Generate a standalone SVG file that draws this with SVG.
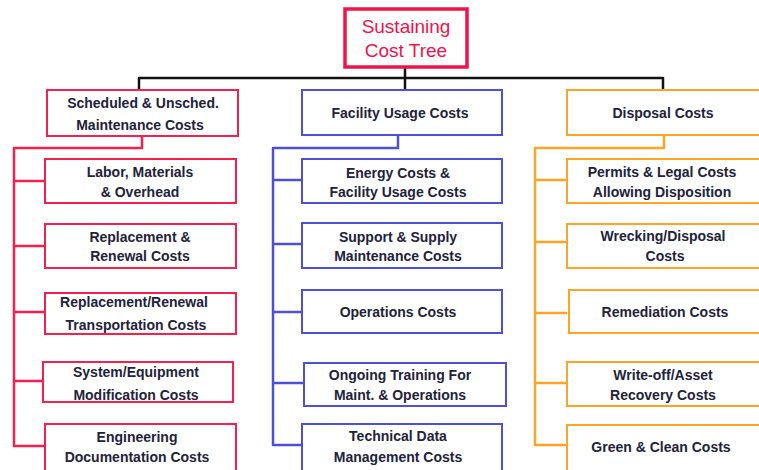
<svg xmlns="http://www.w3.org/2000/svg" width="759" height="470" viewBox="0 0 759 470">
<style>
rect{fill:#fff;stroke-width:2}
.r{stroke:#f5204f}
.b{stroke:#4f4fd6}
.o{stroke:#ffa526}
.root{stroke:#f0124a;stroke-width:3.5}
text{font-family:"Liberation Sans",Arial,sans-serif;font-weight:bold;font-size:14px;fill:#22223a;text-anchor:middle}
.t{font-weight:normal;font-size:19px;fill:#f0124a}
.c{fill:none;stroke-width:2.5;stroke-linejoin:round}
</style>
<g id="connectors">
<path class="c" stroke="#111" d="M405,67V78M139,90V78H663V90M405,78V90"/>
<path class="c" stroke="#f5204f" d="M142,136V148H14V446H45M14,181H45M14,246H45M14,312H45M14,381H45"/>
<path class="c" stroke="#4f4fd6" d="M398,135V148H273V445H302M273,180H302M273,244H302M273,312H302M273,383H304"/>
<path class="c" stroke="#ffa526" d="M664,135V148H535V445H567M535,180H567M535,242H567M535,313H567M535,383H567"/>
</g>
<g id="root"><rect class="root" x="345" y="9" width="122" height="58"/><text class="t" x="406" y="33">Sustaining</text><text class="t" x="406" y="57">Cost Tree</text></g>
<g id="sched"><rect class="r" x="47" y="90" width="191" height="46"/><text x="143" y="108">Scheduled &amp; Unsched.</text><text x="140" y="130">Maintenance Costs</text></g>
<g id="facility"><rect class="b" x="302" y="90" width="200" height="45"/><text x="400" y="118">Facility Usage Costs</text></g>
<g id="disposal"><rect class="o" x="567" y="90" width="210" height="45"/><text x="663" y="118">Disposal Costs</text></g>
<g id="labor"><rect class="r" x="45" y="159" width="191" height="44"/><text x="140" y="177">Labor, Materials</text><text x="140" y="197">&amp; Overhead</text></g>
<g id="replacement"><rect class="r" x="45" y="224" width="191" height="44"/><text x="140" y="242">Replacement &amp;</text><text x="140" y="261">Renewal Costs</text></g>
<g id="transport"><rect class="r" x="45" y="293" width="191" height="41"/><text x="134" y="307">Replacement/Renewal</text><text x="136" y="330">Transportation Costs</text></g>
<g id="system"><rect class="r" x="43" y="362" width="190" height="40"/><text x="136" y="377">System/Equipment</text><text x="136" y="400">Modification Costs</text></g>
<g id="engineering"><rect class="r" x="45" y="424" width="191" height="48"/><text x="137" y="442">Engineering</text><text x="137" y="462">Documentation Costs</text></g>
<g id="energy"><rect class="b" x="302" y="159" width="200" height="44"/><text x="398" y="178">Energy Costs &amp;</text><text x="398" y="197">Facility Usage Costs</text></g>
<g id="support"><rect class="b" x="302" y="223" width="200" height="45"/><text x="398" y="242">Support &amp; Supply</text><text x="398" y="261">Maintenance Costs</text></g>
<g id="operations"><rect class="b" x="302" y="290" width="200" height="43"/><text x="398" y="317">Operations Costs</text></g>
<g id="training"><rect class="b" x="304" y="363" width="202" height="43"/><text x="400" y="380">Ongoing Training For</text><text x="400" y="400">Maint. &amp; Operations</text></g>
<g id="technical"><rect class="b" x="302" y="424" width="200" height="48"/><text x="398" y="441">Technical Data</text><text x="398" y="462">Management Costs</text></g>
<g id="permits"><rect class="o" x="567" y="159" width="210" height="44"/><text x="662" y="177">Permits &amp; Legal Costs</text><text x="662" y="197">Allowing Disposition</text></g>
<g id="wrecking"><rect class="o" x="567" y="224" width="210" height="44"/><text x="663" y="241">Wrecking/Disposal</text><text x="665" y="261">Costs</text></g>
<g id="remediation"><rect class="o" x="569" y="290" width="210" height="43"/><text x="665" y="317">Remediation Costs</text></g>
<g id="writeoff"><rect class="o" x="567" y="362" width="210" height="44"/><text x="663" y="380">Write-off/Asset</text><text x="663" y="400">Recovery Costs</text></g>
<g id="green"><rect class="o" x="567" y="425" width="210" height="48"/><text x="661" y="452">Green &amp; Clean Costs</text></g>
</svg>
